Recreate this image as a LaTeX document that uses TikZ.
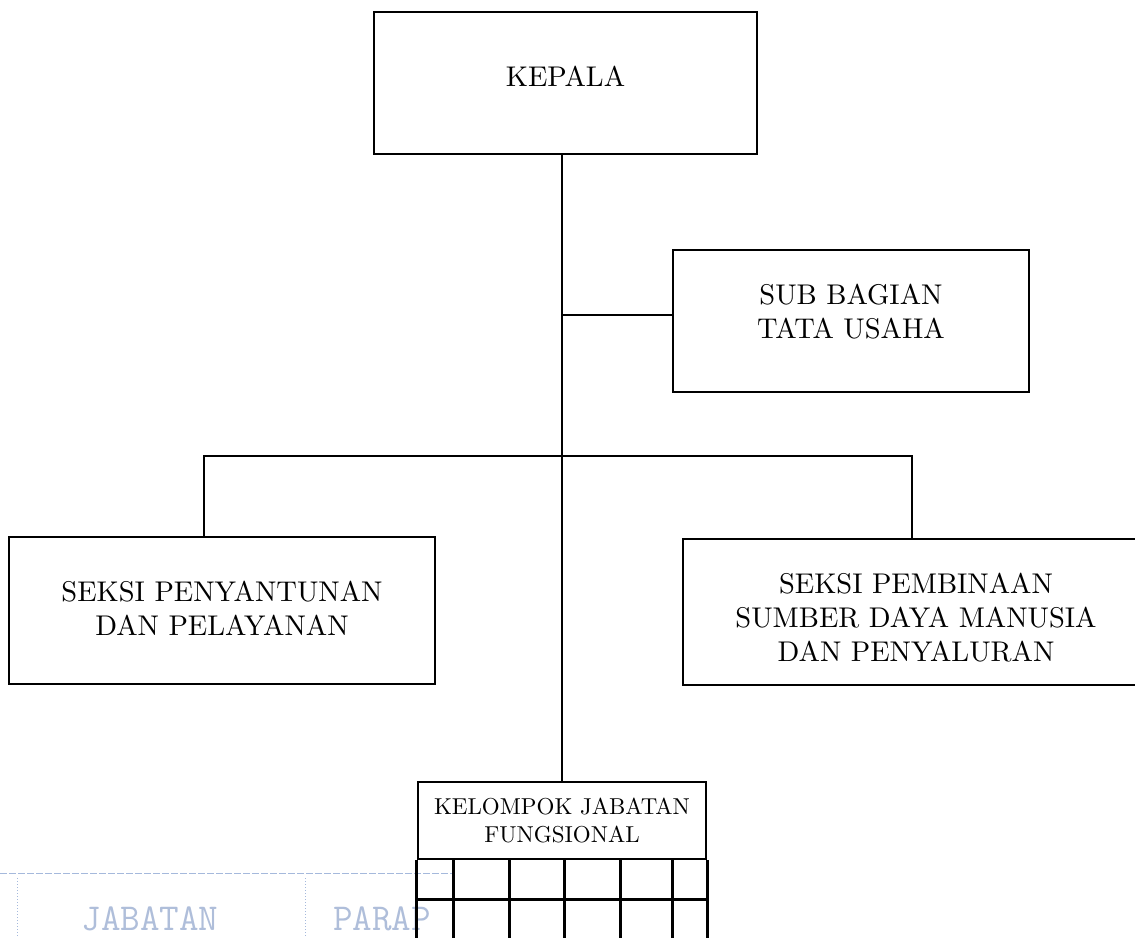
\documentclass[tikz,border=0pt]{standalone}
\usepackage{fontspec}
\newfontfamily\boxfont{lmroman10-regular.otf}
\definecolor{stampline}{RGB}{165,185,220}
\definecolor{stamptext}{RGB}{175,190,218}
\begin{document}
\begin{tikzpicture}[x=1pt,y=-1pt,
  box/.style={draw, line width=2.8pt, inner sep=0pt},
  boxtext/.style={inner sep=0pt, align=center, font=\boxfont\fontsize{28.5}{34}\selectfont},
  smalltext/.style={boxtext, font=\boxfont\fontsize{23}{28}\selectfont},
  link/.style={line width=2pt},
  gridline/.style={line width=3pt},
  stampstroke/.style={draw=stampline, line width=1pt},
  stamplabel/.style={text=stamptext, inner sep=0pt, anchor=base,
              font=\ttfamily\fontsize{38}{40}\selectfont}]
\useasboundingbox (0,0) rectangle (1135,937);
\clip (0,0) rectangle (1135,937);
\fill[white] (0,0) rectangle (1135,937);

% faint stamp in the lower left corner
\draw[stampstroke, dash pattern=on 7pt off 2pt] (0,873) -- (452,873);
\draw[stampstroke, dotted] (17,878) -- (17,937);
\draw[stampstroke, dotted] (305,878) -- (305,937);
\node[stamplabel] (jab) at (150,930) {JABATAN};
\node[stamplabel, anchor=base west] (par) at (333,930) {PARAP};

% boxes
\node[box, minimum width=383pt, minimum height=142pt,
      label={[boxtext, yshift=7pt]center:KEPALA}] (kep) at (565.5,83) {};
\node[box, minimum width=356pt, minimum height=142pt,
      label={[boxtext, yshift=9pt]center:SUB BAGIAN\\TATA USAHA}] (sub) at (851,321) {};
\node[box, minimum width=426pt, minimum height=147pt,
      label={[boxtext, yshift=2pt]center:SEKSI PENYANTUNAN\\DAN PELAYANAN}] (pen) at (222,610.5) {};
\node[box, minimum width=466pt, minimum height=146pt,
      label={[boxtext, yshift=-6pt]center:SEKSI PEMBINAAN\\SUMBER DAYA MANUSIA\\DAN PENYALURAN}] (pem) at (916,612) {};
\node[box, minimum width=288pt, minimum height=77pt,
      label={[smalltext]center:KELOMPOK JABATAN\\FUNGSIONAL}] (kjf) at (562,820.5) {};

% grid under the functional group box
\draw[gridline] (kjf.south west) -- (kjf.south west |- 0,940);
\draw[gridline] (kjf.south east) -- (kjf.south east |- 0,940);
\draw[gridline] (kjf.south west |- 0,899) -- (kjf.south east |- 0,899);
\foreach \gx in {453,509,564,620,672}
  \draw[gridline] (\gx,859) -- (\gx,940);

% connectors
\coordinate (bl) at (204,456);
\coordinate (br) at (912,456);
\draw[link] (kep.south -| kjf.north) -- (kjf.north);
\draw[link] ([yshift=6pt]sub.west) -- ([yshift=6pt]sub.west -| kjf.north);
\draw[link] (pen.north -| bl) -- (bl) -- (br) -- (pem.north -| br);
\end{tikzpicture}
\end{document}
